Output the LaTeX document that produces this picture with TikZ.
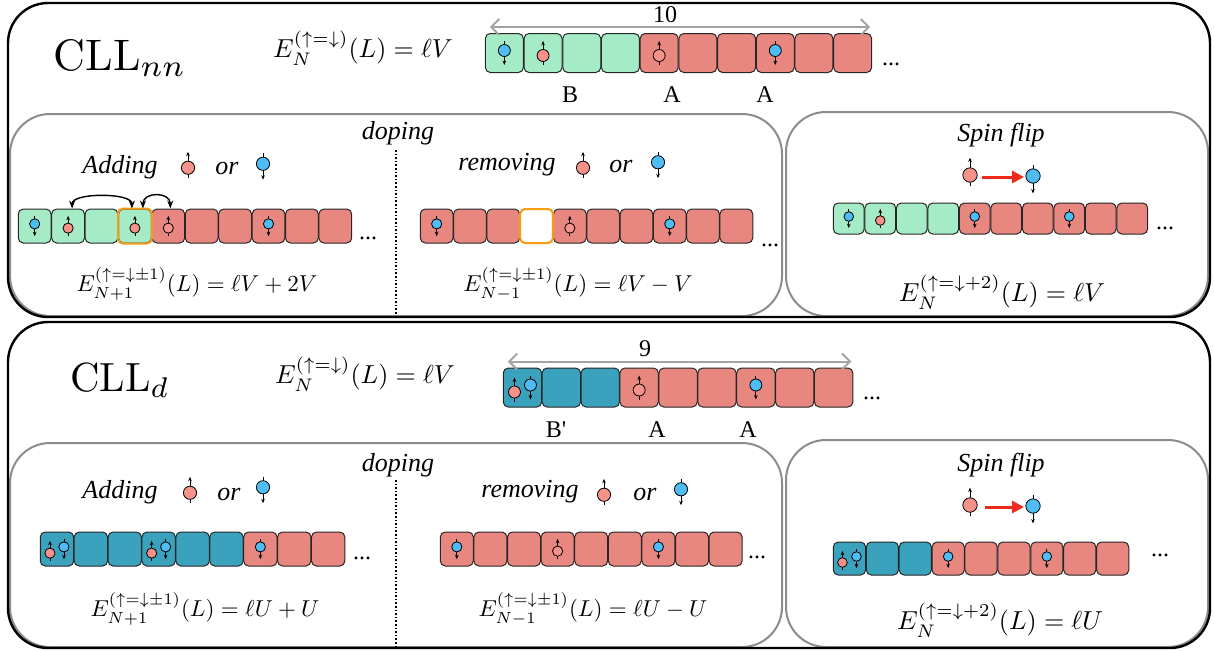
\documentclass[tikz,border=0pt]{standalone}
\usepackage{fontspec}
\newfontfamily\tms{LiberationSerif}[Extension=.ttf, UprightFont=*-Regular, ItalicFont=*-Italic, BoldFont=*-Bold, BoldItalicFont=*-BoldItalic]
\usepackage{tikz}
\usetikzlibrary{arrows.meta,calc}
\definecolor{CellB}{RGB}{164, 235, 198}
\definecolor{CellA}{RGB}{232, 134, 128}
\definecolor{CellBp}{RGB}{58, 162, 189}
\definecolor{SpinUp}{RGB}{246, 146, 138}
\definecolor{SpinDown}{RGB}{78, 189, 246}
\definecolor{Hole}{RGB}{245, 155, 20}
\definecolor{Flip}{RGB}{238, 42, 27}
\definecolor{Frame}{RGB}{140, 140, 140}

\tikzset{
  cell/.style={draw=black!85, line width=0.5pt, rounded corners=2.5pt, inner sep=0pt},
  box/.style={draw=Frame, line width=1pt, rounded corners=20pt},
  frame/.style={draw=black, line width=1.2pt, rounded corners=20pt},
  lbl/.style={font=\tms\fontsize{12}{14}\selectfont, inner sep=0pt},
  ital/.style={font=\tms\itshape\fontsize{13}{15}\selectfont, inner sep=0pt},
  eq/.style={font=\normalsize, inner sep=0pt, scale=1.15, transform shape},
  title/.style={font=\normalsize, inner sep=0pt, scale=2.1, transform shape},
  spinup/.pic={
    \draw[line width=0.4pt, -{Stealth[length=2.2pt,width=1.8pt]}] (0,12) -- (0,-12);
    \draw[line width=0.4pt, fill=SpinUp] (0,2.5) circle[radius=6];
  },
  spindown/.pic={
    \draw[line width=0.4pt, -{Stealth[length=2.2pt,width=1.8pt]}] (0,-12) -- (0,12);
    \draw[line width=0.4pt, fill=SpinDown] (0,-2.5) circle[radius=6];
  },
}

\begin{document}
\begin{tikzpicture}[x=0.5pt, y=-0.5pt]
    \useasboundingbox (0,0) rectangle (1214,650);

    %% Frames
    \draw[box] (10,114) rectangle (782,316);
    \draw[box] (786,112) rectangle (1208,316);
    \draw[frame] (8,3) rectangle (1210,317);
    \draw[box] (10,443) rectangle (782,647);
    \draw[box] (786,440) rectangle (1208,647);
    \draw[frame] (8,322) rectangle (1210,648);

    %%%%%%%%%%%%%%%% CLL_nn
    \node[title, scale=1.05] (nntitle) at (120,58) {$\mathrm{CLL}_{nn}$};
    \node[eq, scale=1.13] (nneq) at (363,48) {$E_N^{(\uparrow=\downarrow)}(L) = \ell V$};

    %% chain
    \foreach \c [count=\i] in {CellB,CellB,CellB,CellB,CellA,CellA,CellA,CellA,CellA,CellA}
      \node[cell, fill=\c, minimum width=19pt, minimum height=19.5pt] (nn\i) at ({485+(\i-0.5)*38.7},53) {};
    \pic at (nn1) {spindown};
    \pic at (nn2) {spinup};
    \pic at (nn5) {spinup};
    \pic at (nn8) {spindown};
    \node[lbl] (nndots) at (891,64) {...};
    \draw[Frame!80, line width=1pt, {Straight Barb[length=4pt]}-{Straight Barb[length=4pt]}]
      ([shift={(5,-6)}]nn1.north west) -- ([shift={(-2,-6)}]nn10.north east);
    \node[lbl] (nnlen) at (665,15) {10};
    \node[lbl] (nnB) at (570,95) {B};
    \node[lbl] (nnA1) at (672,95) {A};
    \node[lbl] (nnA2) at (765,95) {A};

    %% doping
    \node[ital] (nndop) at (398,133) {doping};
    \draw[densely dotted, line width=0.8pt] (396,150) -- (396,316);

    % adding
    \node[ital] (nnadd) at (120,167) {Adding};
    \pic[scale=1.1] at (188,165) {spinup};
    \node[ital] (nnor1) at (227,168) {or};
    \pic[scale=1.1] at (263,166.5) {spindown};
    \foreach \c [count=\i] in {CellB,CellB,CellB,CellB,CellA,CellA,CellA,CellA,CellA,CellA}
      \node[cell, fill=\c, minimum width=16.4pt, minimum height=17pt] (nnadd\i) at ({18+(\i-0.5)*33.4},226) {};
    \draw[Hole, line width=1pt, rounded corners=2.5pt] (nnadd4.south west) rectangle (nnadd4.north east);
    \pic[scale=0.85] at (nnadd1) {spindown};
    \pic[scale=0.85] at (nnadd2) {spinup};
    \pic[scale=0.85] at (nnadd4) {spinup};
    \pic[scale=0.85] at (nnadd5) {spinup};
    \pic[scale=0.85] at (nnadd8) {spindown};
    \draw[line width=0.7pt, {Stealth[length=4pt]}-{Stealth[length=4pt]}]
      ([xshift=2pt]nnadd2.north) .. controls +(0,-16) and +(0,-16) .. ([xshift=-1.5pt]nnadd4.north);
    \draw[line width=0.7pt, {Stealth[length=4pt]}-{Stealth[length=4pt]}]
      ([xshift=4pt]nnadd4.north) .. controls +(0,-17) and +(0,-17) .. ([xshift=1pt]nnadd5.north);
    \node[lbl] (nnadddots) at (368,238) {...};
    \node[eq] (nnaddeq) at (197,284) {$E_{N+1}^{(\uparrow=\downarrow\pm1)}(L) = \ell V + 2V$};

    % removing
    \node[ital] (nnrem) at (507,165) {removing};
    \pic[scale=1.1] at (583,165) {spinup};
    \node[ital] (nnor2) at (621,166) {or};
    \pic[scale=1.1] at (658,165) {spindown};
    \foreach \i in {1,...,10}
      \node[cell, fill=CellA, minimum width=16.4pt, minimum height=17pt] (nnrem\i) at ({420+(\i-0.5)*33.3},226) {};
    \node[cell, draw=Hole, line width=1pt, fill=white, minimum width=16.4pt, minimum height=17pt] at (nnrem4) {};
    \pic[scale=0.85] at (nnrem1) {spindown};
    \pic[scale=0.85] at (nnrem5) {spinup};
    \pic[scale=0.85] at (nnrem8) {spindown};
    \node[lbl] (nnremdots) at (770,245) {...};
    \node[eq] (nnremeq) at (578,284) {$E_{N-1}^{(\uparrow=\downarrow\pm1)}(L) = \ell V - V$};

    %% spin flip
    \node[ital] (nnflip) at (1001,135) {Spin flip};
    \pic[scale=1.2] at (970,172) {spinup};
    \pic[scale=1.2] at (1033,179) {spindown};
    \coordinate (nnfu) at (982,177);
    \coordinate (nnfd) at (1024,177);
    \draw[Flip, line width=1.5pt, -{Triangle[length=6pt,width=6pt]}] (nnfu) -- (nnfd);
    \foreach \c [count=\i] in {CellB,CellB,CellB,CellB,CellA,CellA,CellA,CellA,CellA,CellA}
      \node[cell, fill=\c, minimum width=15.4pt, minimum height=15.5pt] (nnflip\i) at ({833+(\i-0.5)*31.5},218.5) {};
    \pic[scale=0.8] at (nnflip1) {spindown};
    \pic[scale=0.8] at (nnflip2) {spinup};
    \pic[scale=0.8] at (nnflip5) {spindown};
    \pic[scale=0.8] at (nnflip8) {spindown};
    \node[lbl] (nnflipdots) at (1165,228) {...};
    \node[eq, scale=1.13] (nnflipeq) at (1002,292) {$E_{N}^{(\uparrow=\downarrow+2)}(L) = \ell V$};

    %%%%%%%%%%%%%%%% CLL_d
    \node[title, scale=0.97] (dtitle) at (120,380) {$\mathrm{CLL}_{d}$};
    \node[eq, scale=1.13] (deq) at (365,374) {$E_N^{(\uparrow=\downarrow)}(L) = \ell V$};

    %% chain
    \foreach \c [count=\i] in {CellBp,CellBp,CellBp,CellA,CellA,CellA,CellA,CellA,CellA}
      \node[cell, fill=\c, minimum width=19.2pt, minimum height=19.5pt] (d\i) at ({503+(\i-0.5)*38.9},387.5) {};
    \pic at ([shift={(-8,2)}]d1) {spinup};
    \pic at ([shift={(8,0)}]d1) {spindown};
    \pic at (d4) {spinup};
    \pic at (d7) {spindown};
    \node[lbl] (ddots) at (872,398) {...};
    \draw[Frame!80, line width=1pt, {Straight Barb[length=4pt]}-{Straight Barb[length=4pt]}]
      ([shift={(5,-6)}]d1.north west) -- ([shift={(-2,-6)}]d9.north east);
    \node[lbl] (dlen) at (645,349) {9};
    \node[lbl] (dB) at (556,430) {B'};
    \node[lbl] (dA1) at (657,430) {A};
    \node[lbl] (dA2) at (748,430) {A};

    %% doping
    \node[ital] (ddop) at (398,465) {doping};
    \draw[densely dotted, line width=0.8pt] (396,480) -- (396,647);

    % adding
    \node[ital] (dadd) at (120,492) {Adding};
    \pic[scale=1.1] at (190,490) {spinup};
    \node[ital] (dor1) at (229,494) {or};
    \pic[scale=1.1] at (263,490) {spindown};
    \foreach \c [count=\i] in {CellBp,CellBp,CellBp,CellBp,CellBp,CellBp,CellA,CellA,CellA}
      \node[cell, fill=\c, minimum width=16.7pt, minimum height=17pt] (dadd\i) at ({40+(\i-0.5)*33.9},549) {};
    \pic[scale=0.85] at ([shift={(-7,2)}]dadd1) {spinup};
    \pic[scale=0.85] at ([shift={(7,0)}]dadd1) {spindown};
    \pic[scale=0.85] at ([shift={(-7,2)}]dadd4) {spinup};
    \pic[scale=0.85] at ([shift={(7,0)}]dadd4) {spindown};
    \pic[scale=0.85] at (dadd7) {spindown};
    \node[lbl] (dadddots) at (362,558) {...};
    \node[eq] (daddeq) at (205,609) {$E_{N+1}^{(\uparrow=\downarrow\pm1)}(L) = \ell U + U$};

    % removing
    \node[ital] (drem) at (530,492) {removing};
    \pic[scale=1.1] at (604,492) {spinup};
    \node[ital] (dor2) at (645,494) {or};
    \pic[scale=1.1] at (681,492) {spindown};
    \foreach \i in {1,...,9}
      \node[cell, fill=CellA, minimum width=16.5pt, minimum height=17pt] (drem\i) at ({440+(\i-0.5)*33.6},549) {};
    \pic[scale=0.85] at (drem1) {spindown};
    \pic[scale=0.85] at (drem4) {spinup};
    \pic[scale=0.85] at (drem7) {spindown};
    \node[lbl] (dremdots) at (757,557) {...};
    \node[eq] (dremeq) at (593,609) {$E_{N-1}^{(\uparrow=\downarrow\pm1)}(L) = \ell U - U$};

    %% spin flip
    \node[ital] (dflip) at (1001,465) {Spin flip};
    \pic[scale=1.2] at (970,502) {spinup};
    \pic[scale=1.2] at (1033,509) {spindown};
    \coordinate (dfu) at (985,507);
    \coordinate (dfd) at (1024,507);
    \draw[Flip, line width=1.5pt, -{Triangle[length=6pt,width=6pt]}] (dfu) -- (dfd);
    \foreach \c [count=\i] in {CellBp,CellBp,CellBp,CellA,CellA,CellA,CellA,CellA,CellA}
      \node[cell, fill=\c, minimum width=16.1pt, minimum height=16.5pt] (dflip\i) at ({833+(\i-0.5)*32.9},558.5) {};
    \pic[scale=0.8] at ([shift={(-7,2)}]dflip1) {spinup};
    \pic[scale=0.8] at ([shift={(7,0)}]dflip1) {spindown};
    \pic[scale=0.8] at (dflip4) {spindown};
    \pic[scale=0.8] at (dflip7) {spindown};
    \node[lbl] (dflipdots) at (1160,555) {...};
    \node[eq, scale=1.13] (dflipeq) at (1000,620) {$E_{N}^{(\uparrow=\downarrow+2)}(L) = \ell U$};

\end{tikzpicture}
\end{document}
